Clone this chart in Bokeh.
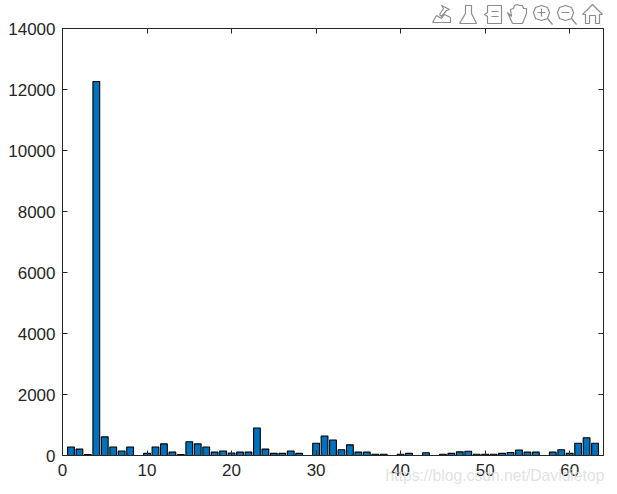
from bokeh.plotting import figure
from bokeh.embed import file_html
from bokeh.layouts import column
from bokeh.core.properties import value
from bokeh.resources import INLINE
from bokeh.models import LinearAxis, Range1d, FixedTicker

categories = list(range(1, 64))
counts = [280, 210, 30, 12260, 610, 280, 150, 280, 0, 70,
          280, 380, 110, 30, 450, 380, 280, 110, 150, 80,
          110, 110, 900, 210, 70, 70, 150, 70, 0, 400,
          640, 510, 190, 350, 110, 110, 40, 40, 0, 40,
          70, 0, 90, 0, 40, 70, 120, 140, 40, 40,
          40, 70, 100, 180, 110, 110, 0, 110, 190, 70,
          400, 580, 400]
x_ticks = [0, 10, 20, 30, 40, 50, 60]
y_ticks = [0, 2000, 4000, 6000, 8000, 10000, 12000, 14000]
watermark = "https://blog.csdn.net/Davidietop"

p = figure(width=609, height=486, output_backend="svg", toolbar_location=None,
           x_range=Range1d(0, 64), y_range=Range1d(0, 14000),
           min_border_left=62, min_border_right=6, min_border_top=28, min_border_bottom=31,
           frame_width=541, frame_height=427, background_fill_color="white",
           border_fill_color="white", frame_align=False)
p.grid.visible = False
p.outline_line_color = "#262626"
p.outline_line_width = 1

p.vbar(x=categories, top=counts, width=0.8, bottom=0,
       fill_color="#0072BD", line_color="black", line_width=1.1)

def style(ax, ticks, labelled, standoff=0):
    ax.ticker = FixedTicker(ticks=ticks)
    ax.major_tick_in = 5
    ax.major_tick_out = 0
    ax.minor_tick_in = 0
    ax.minor_tick_out = 0
    ax.major_tick_line_color = "#262626"
    ax.axis_line_color = "#262626"
    ax.major_tick_line_width = 1
    ax.axis_line_width = 1
    if labelled:
        ax.major_label_text_font = "Liberation Sans"
        ax.major_label_text_font_size = "17px"
        ax.major_label_text_color = "#262626"
        ax.major_label_standoff = standoff
    else:
        ax.major_label_overrides = {t: "" for t in ticks}
        ax.major_label_text_font_size = "1px"
        ax.major_label_standoff = 0

style(p.xaxis[0], x_ticks, True, 8)
style(p.yaxis[0], y_ticks, True, 7)
top_ax = LinearAxis()
right_ax = LinearAxis()
style(top_ax, x_ticks, False)
style(right_ax, y_ticks, False)
p.add_layout(top_ax, "above")
p.add_layout(right_ax, "right")

# transparent layer over the whole page, in page pixels, for what lies outside the axes
o = figure(width=609, height=486, output_backend="svg", toolbar_location=None,
           x_range=Range1d(0, 609), y_range=Range1d(486, 0), min_border=0,
           x_axis_location=None, y_axis_location=None, frame_align=False,
           background_fill_alpha=0, border_fill_alpha=0, outline_line_color=None,
           styles={"position": "absolute", "left": "0px", "top": "0px"})
o.grid.visible = False

o.text(x=[385], y=[483], text=[watermark], text_font=value("Liberation Sans"),
       text_font_size="15.7px", text_color="#dcdcdc", text_alpha=0.85, text_baseline="bottom")

def icon(pts):
    o.line([a for a, _ in pts], [b for _, b in pts], line_color="#8c8c8c", line_width=1.2)

icon([(432, 22), (450, 22), (450, 17), (444, 14), (441, 18), (436, 15), (432, 22)])
icon([(439, 14), (443, 8), (441, 5), (449, 9), (446, 10), (441, 16), (439, 14)])
icon([(459, 23), (476, 23), (471, 13), (471, 5), (465, 5), (465, 13), (459, 23)])
icon([(487, 5), (501, 5), (501, 23), (487, 23), (487, 16), (484, 14), (487, 12), (487, 5)])
icon([(491, 11), (498, 11)])
icon([(491, 16), (498, 16)])
icon([(512, 23), (522, 23), (526, 13), (526, 8), (523, 8), (522, 5), (519, 5), (517, 4), (514, 5), (513, 8),
      (510, 9), (511, 16), (507, 12), (512, 23)])
for cx in (541, 565):
    icon([(cx, 5), (cx + 6, 7), (cx + 8, 12), (cx + 6, 18), (cx, 20), (cx - 6, 18), (cx - 8, 12), (cx - 6, 7), (cx, 5)])
    icon([(cx + 6, 18), (cx + 11, 24)])
    icon([(cx - 4, 12), (cx + 4, 12)])
icon([(541, 8), (541, 16)])
icon([(582, 14), (592, 4), (602, 14), (599, 14), (599, 23), (595, 23), (595, 15), (589, 15), (589, 23),
      (585, 23), (585, 14), (582, 14)])

open("out.html", "w").write(file_html(column(p, o), INLINE))
